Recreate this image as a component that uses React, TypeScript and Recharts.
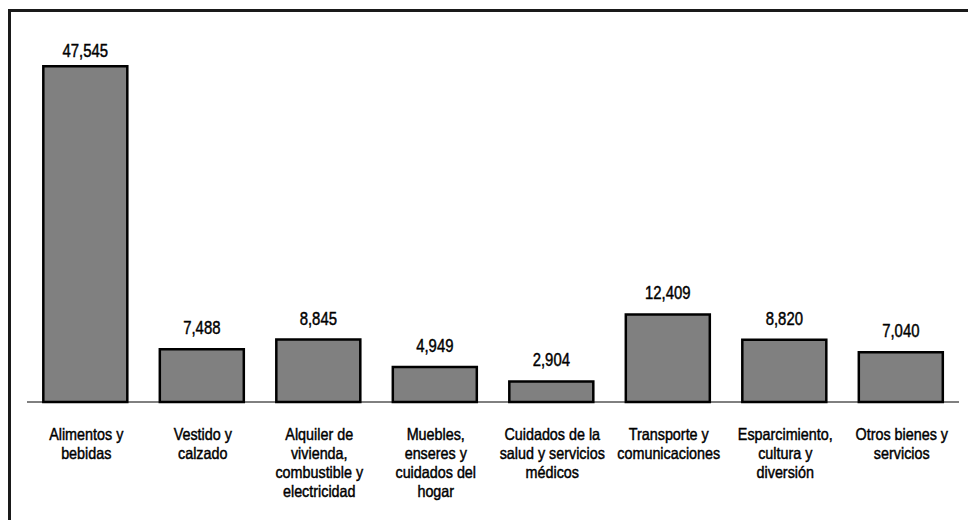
import { BarChart, Bar, XAxis, YAxis, LabelList } from "recharts";

const categories = [
    "Alimentos y|bebidas",
    "Vestido y|calzado",
    "Alquiler de|vivienda,|combustible y|electricidad",
    "Muebles,|enseres y|cuidados del|hogar",
    "Cuidados de la|salud y servicios|médicos",
    "Transporte y|comunicaciones",
    "Esparcimiento,|cultura y|diversión",
    "Otros bienes y|servicios",
];

const values = [47545, 7488, 8845, 4949, 2904, 12409, 8820, 7040];

const data = categories.map((name, i) => ({ name, value: values[i] }));

// no Arial Narrow here, so squeeze Liberation Sans horizontally
const FONT = "'Liberation Sans', Arial, sans-serif";

function CategoryTick({ x, y, payload }: any) {
    const lines = String(payload.value).split("|");
    return (
        <g transform={`translate(${x + 1},${y})`}>
            <text
                transform="scale(0.87,1)"
                x={0}
                y={0}
                textAnchor="middle"
                fontFamily={FONT}
                fontSize={16.5}
                fill="#000"
                stroke="#000"
                strokeWidth={0.45}
            >
                {lines.map((line, i) => (
                    <tspan key={i} x={0} dy={i === 0 ? 30 : 19}>
                        {line}
                    </tspan>
                ))}
            </text>
        </g>
    );
}

function ValueLabel({ x, y, width, value }: any) {
    const cx = x + width / 2;
    // the tallest label sits closer to its bar to stay inside the frame
    const by = Math.max(y - 15, 57);
    return (
        <g transform={`translate(${cx},${by})`}>
            <text
                transform="scale(0.85,1)"
                x={0}
                y={0}
                textAnchor="middle"
                fontFamily={FONT}
                fontSize={17.5}
                fill="#000"
                stroke="#000"
                strokeWidth={0.45}
            >
                {Number(value).toLocaleString("en-US")}
            </text>
        </g>
    );
}

export default function App() {
    return (
        <div
            style={{
                position: "fixed",
                left: 0,
                top: 0,
                width: 968,
                height: 520,
                background: "#fff",
                overflow: "hidden",
            }}
        >
            <div
                style={{
                    position: "absolute",
                    left: 8,
                    top: 9,
                    width: 1200,
                    height: 800,
                    borderTop: "3px solid #1a1a1a",
                    borderLeft: "3px solid #1a1a1a",
                }}
            />
            <div style={{ position: "absolute", left: 0, top: 0 }}>
                <BarChart
                    width={968}
                    height={520}
                    data={data}
                    margin={{ top: 49, right: 9, left: 27, bottom: 0 }}
                    barCategoryGap="14%"
                >
                    <XAxis
                        dataKey="name"
                        height={118}
                        interval={0}
                        tickLine={false}
                        axisLine={{ stroke: "#000", strokeWidth: 1 }}
                        tick={<CategoryTick />}
                    />
                    <YAxis hide domain={[0, 50000]} />
                    <Bar
                        dataKey="value"
                        fill="#808080"
                        stroke="#000"
                        strokeWidth={2.5}
                        isAnimationActive={false}
                    >
                        <LabelList dataKey="value" content={<ValueLabel />} />
                    </Bar>
                </BarChart>
            </div>
        </div>
    );
}
